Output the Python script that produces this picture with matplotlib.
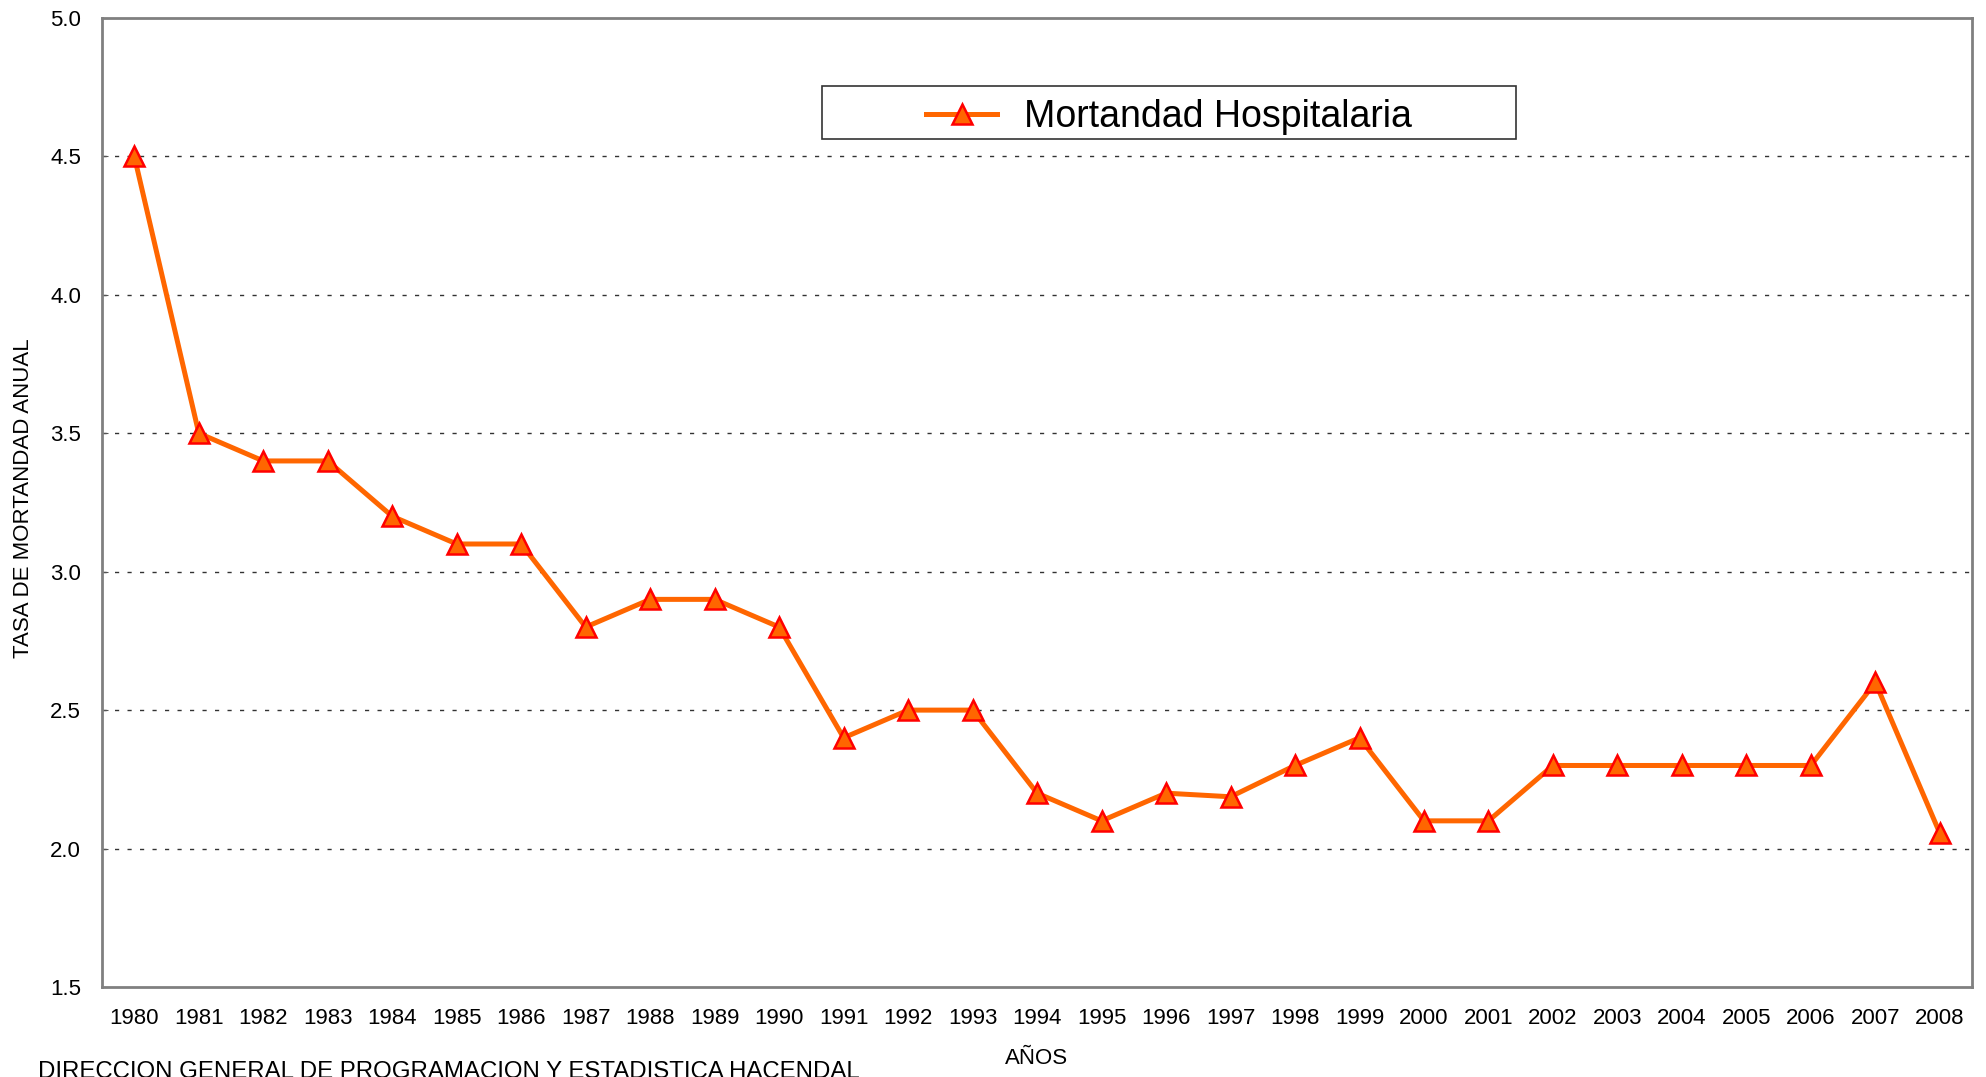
import matplotlib
matplotlib.use("Agg")
import matplotlib.pyplot as plt
from matplotlib.lines import Line2D
from matplotlib.patches import Rectangle

plt.rcParams['font.family'] = ['Liberation Sans', 'DejaVu Sans']

years = ['1980', '1981', '1982', '1983', '1984', '1985', '1986', '1987', '1988', '1989',
         '1990', '1991', '1992', '1993', '1994', '1995', '1996', '1997', '1998', '1999',
         '2000', '2001', '2002', '2003', '2004', '2005', '2006', '2007', '2008']
mortandad = [4.5, 3.5, 3.4, 3.4, 3.2, 3.1, 3.1, 2.8, 2.9, 2.9,
             2.8, 2.4, 2.5, 2.5, 2.2, 2.1, 2.2, 2.187, 2.3, 2.4,
             2.1, 2.1, 2.3, 2.3, 2.3, 2.3, 2.3, 2.6, 2.055]
y_ticks = [1.5, 2.0, 2.5, 3.0, 3.5, 4.0, 4.5, 5.0]
grid_levels = [2.0, 2.5, 3.0, 3.5, 4.0, 4.5]

fig = plt.figure(figsize=(19.86, 10.77), dpi=100)
ax = fig.add_axes([0.0514, 0.0836, 0.9416, 0.8997])

x = list(range(len(years)))
line_kw = dict(color='#FF6600', linewidth=3.6, marker='^', markersize=14,
               markerfacecolor='#FF6600', markeredgecolor='#FF0000', markeredgewidth=1.8)
ax.plot(x, mortandad, solid_joinstyle='round', zorder=3, **line_kw)

for g in grid_levels:
    ax.axhline(g, color='#333333', linewidth=1.0, linestyle=(0, (3, 6)), zorder=1)

ax.set_xlim(-0.5, len(years) - 0.5)
ax.set_ylim(1.5, 5.0)
ax.set_yticks(y_ticks)
ax.set_yticklabels([f'{v:.1f}' for v in y_ticks], fontsize=16)
ax.set_xticks(x)
ax.set_xticklabels(years, fontsize=16)
ax.tick_params(axis='y', direction='in', length=4, color='#555555', pad=15)
ax.tick_params(axis='x', length=0, pad=15)

for s in ax.spines.values():
    s.set_color('#808080')
    s.set_linewidth(2)

fig.text(0.0116, 0.537, 'TASA DE MORTANDAD ANUAL', rotation=90, fontsize=16,
         ha='center', va='center')
fig.text(0.522, 0.0175, 'AÑOS', fontsize=16, ha='center', va='center')
fig.text(0.019, 0.0145, 'DIRECCION GENERAL DE PROGRAMACION Y ESTADISTICA HACENDAL',
         fontsize=17.3, ha='left', va='top')

# legend box (fixed size, content centred)
ax.add_patch(Rectangle((0.385, 0.875), 0.371, 0.055, transform=ax.transAxes,
                       facecolor='white', edgecolor='#333333', linewidth=1.2, zorder=4))
handle = Line2D([], [], **line_kw)
leg = ax.legend([handle], ['Mortandad Hospitalaria'], loc='center',
                bbox_to_anchor=(0.5705, 0.8975), fontsize=27, frameon=False,
                handlelength=1.9, handletextpad=0.7, borderaxespad=0)
leg.set_zorder(5)

fig.savefig('out.png', dpi=100)
